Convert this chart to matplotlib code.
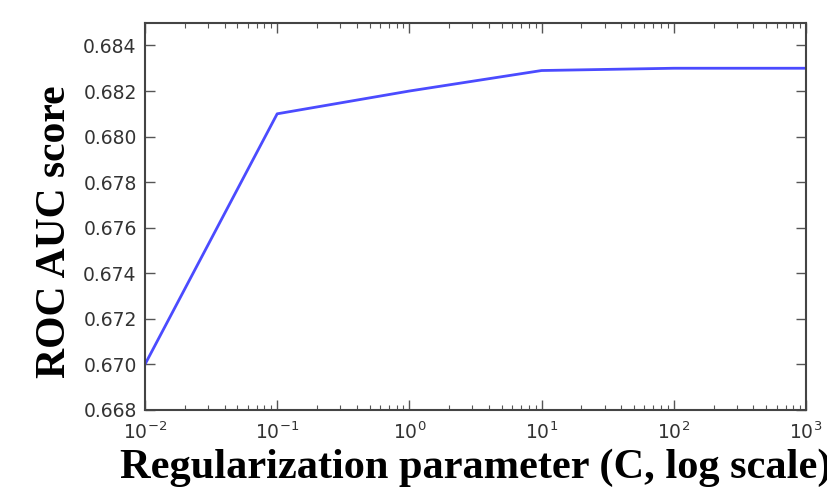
import numpy as np
import matplotlib
matplotlib.use('Agg')
import matplotlib.pyplot as plt

plt.rcParams['axes.unicode_minus'] = False
plt.rcParams['font.family'] = ['DejaVu Sans']

# ── Data ──────────────────────────────────────────────────────────────────────
C_values  = [1e-2, 1e-1, 1e0, 1e1, 1e2, 1e3]
auc_score = [0.6700, 0.6810, 0.6820, 0.6829, 0.6830, 0.6830]
y_ticks   = [0.668, 0.670, 0.672, 0.674, 0.676, 0.678, 0.680, 0.682, 0.684]

# ── Figure ────────────────────────────────────────────────────────────────────
fig = plt.figure(figsize=(8.27, 4.92), dpi=100)
ax = fig.add_axes([0.1753, 0.1667, 0.7993, 0.7872])

ax.plot(C_values, auc_score, color='#4b4bff', lw=2)
ax.set_xscale('log')
ax.set_xlim(1e-2, 1e3)
ax.set_ylim(0.668, 0.685)
ax.set_yticks(y_ticks)
ax.set_yticklabels([f'{v:.3f}' for v in y_ticks])

for sp in ax.spines.values():
    sp.set_color('#444444'); sp.set_linewidth(1.5)
ax.tick_params(which='major', direction='in', length=7, width=1,
               top=True, right=True, colors='#555555',
               labelcolor='#333333', labelsize=13.5)
ax.tick_params(axis='x', which='major', pad=8)
ax.tick_params(axis='y', which='major', pad=6)
ax.tick_params(which='minor', direction='in', length=3.5, width=0.8,
               top=True, right=True, colors='#555555')
ax.tick_params(axis='y', which='minor', left=False, right=False)

serif = ['Liberation Serif', 'DejaVu Serif']
ax.set_ylabel('ROC AUC score', family=serif, fontweight='bold', fontsize=30)
ax.yaxis.set_label_coords(-0.108, 0.46)
ax.set_xlabel('Regularization parameter (C, log scale)', family=serif,
              fontweight='bold', fontsize=30.5)
ax.xaxis.set_label_coords(0.5, -0.1)

plt.savefig('out.png', dpi=100)
